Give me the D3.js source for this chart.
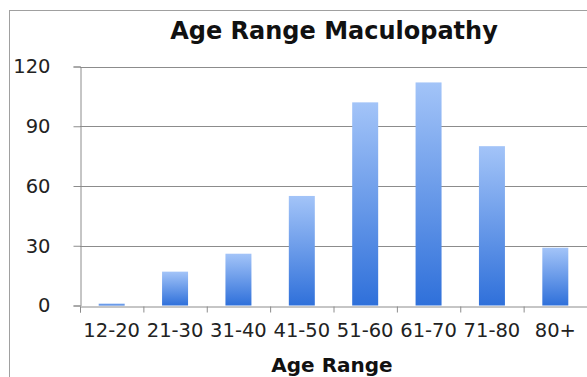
<!DOCTYPE html>
<html>
<head>
<meta charset="utf-8">
<script src="https://cdn.jsdelivr.net/npm/d3@7"></script>
<style>
  body { margin: 0; background: #fff; }
  svg { display: block; font-family: "DejaVu Sans", Verdana, sans-serif; }
</style>
</head>
<body>
<div id="plot"></div>
<script>
  const categories = ["12-20", "21-30", "31-40", "41-50", "51-60", "61-70", "71-80", "80+"];
  const counts = [1, 17, 26, 55, 102, 112, 80, 29];
  const yTicks = [0, 30, 60, 90, 120];

  const w = 587;
  const h = 377;
  const margin = {top: 66.5, right: 0, bottom: 71.5, left: 80};

  const svg = d3.select("div#plot")
      .append("svg")
      .attr("width", w)
      .attr("height", h);

  // outer chart frame (runs off the right and bottom edge)
  svg.append("rect")
      .attr("x", 9.5)
      .attr("y", 10.5)
      .attr("width", w)
      .attr("height", h)
      .attr("fill", "#fff")
      .attr("stroke", "#a0a0a0");

  const grad = svg.append("defs").append("linearGradient")
      .attr("id", "barGrad")
      .attr("x1", 0).attr("y1", 0).attr("x2", 0).attr("y2", 1);
  grad.append("stop").attr("offset", "0%").attr("stop-color", "#a3c4f8");
  grad.append("stop").attr("offset", "100%").attr("stop-color", "#2f70da");

  const xScale = d3.scaleBand()
      .domain(categories)
      .range([margin.left, w])
      .paddingInner(0.59)
      .paddingOuter(0.295);

  const yScale = d3.scaleLinear()
      .domain([0, 120])
      .range([h - margin.bottom, margin.top]);

  // gridlines
  svg.append("g")
    .selectAll("line")
    .data(yTicks.filter(d => d > 0))
    .join("line")
      .attr("x1", margin.left)
      .attr("x2", w)
      .attr("y1", d => Math.round(yScale(d)) + 0.5)
      .attr("y2", d => Math.round(yScale(d)) + 0.5)
      .attr("stroke", "#8c8c8c");

  svg.append("g")
    .selectAll("rect")
    .data(counts)
    .join("rect")
      .attr("x", (d, i) => xScale(categories[i]))
      .attr("y", d => yScale(d))
      .attr("width", xScale.bandwidth())
      .attr("height", d => yScale(0) - yScale(d))
      .attr("fill", "url(#barGrad)");

  const yAxis = d3.axisLeft(yScale)
      .tickValues(yTicks)
      .tickSize(7)
      .tickPadding(23);

  const xAxis = d3.axisBottom(d3.scalePoint().domain(d3.range(categories.length + 1)).range([margin.left, w]))
      .tickSize(6)
      .tickFormat("");

  const gy = svg.append("g")
      .attr("transform", `translate(${margin.left + 0.5},0)`)
      .call(yAxis);

  const gx = svg.append("g")
      .attr("transform", `translate(0,${Math.round(yScale(0)) + 0.5})`)
      .call(xAxis);

  [gx, gy].forEach(g => {
    g.select(".domain").attr("stroke", "#8c8c8c");
    g.selectAll(".tick line").attr("stroke", "#8c8c8c");
  });
  gy.selectAll(".tick text")
      .attr("font-size", 19.5)
      .attr("font-family", "DejaVu Sans")
      .attr("fill", "#222");

  // category labels
  svg.append("g")
    .selectAll("text")
    .data(categories)
    .join("text")
      .attr("x", d => xScale(d) + xScale.bandwidth() / 2)
      .attr("y", 337)
      .attr("text-anchor", "middle")
      .attr("font-size", 19.5)
      .attr("fill", "#222")
      .text(d => d);

  svg.append("text")
      .attr("x", 334)
      .attr("y", 39)
      .attr("text-anchor", "middle")
      .attr("font-size", 24)
      .attr("font-weight", "bold")
      .attr("fill", "#111")
      .text("Age Range Maculopathy");

  svg.append("text")
      .attr("x", 332)
      .attr("y", 372)
      .attr("text-anchor", "middle")
      .attr("font-size", 20)
      .attr("font-weight", "bold")
      .attr("fill", "#111")
      .text("Age Range");
</script>
</body>
</html>
